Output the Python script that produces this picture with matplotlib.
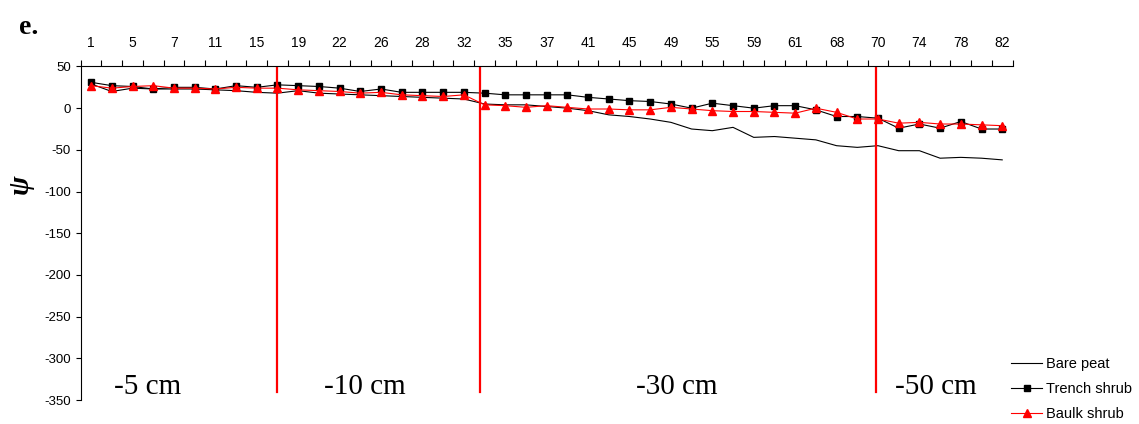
import matplotlib.pyplot as plt
import numpy as np

plt.rcParams['axes.unicode_minus'] = False

# category labels shown on the top axis (every other category is labelled)
shown_labels = ['1', '5', '7', '11', '15', '19', '22', '26', '28', '32', '35', '37',
                '41', '45', '49', '55', '59', '61', '68', '70', '74', '78', '82']
n_cat = 45

bare_peat = [29, 20, 24, 23, 23, 23, 22, 21, 19, 18, 21, 18, 17, 16, 15, 14, 13, 12, 11, 5,
             4, 4, 2, 0, -3, -8, -10, -13, -17, -25, -27, -23, -35, -34, -36, -38, -45, -47,
             -45, -51, -51, -60, -59, -60, -62]
trench_shrub = [31, 27, 26, 23, 25, 25, 23, 27, 25, 28, 27, 26, 24, 20, 23, 19, 19, 19, 19, 18,
                16, 16, 16, 16, 13, 11, 9, 8, 5, 0, 6, 3, 0, 3, 3, -2, -10, -10, -12, -24,
                -19, -24, -16, -25, -25]
baulk_shrub = [27, 24, 26, 27, 24, 24, 23, 25, 24, 24, 22, 21, 20, 18, 19, 16, 15, 14, 16, 4,
               3, 1, 3, 1, -1, -1, -2, -2, 1, -1, -3, -4, -4, -5, -6, 0, -5, -13, -13, -18,
               -17, -19, -19, -20, -21]

# depth zones: boundary positions (category index) and labels
zone_edges = [9, 18.8, 37.9]
zone_text = ['-5 cm', '-10 cm', '-30 cm', '-50 cm']
zone_text_x = [2.75, 13.2, 28.3, 40.8]

fig = plt.figure(figsize=(11.39, 4.24), dpi=100)
ax = fig.add_axes([0.0709, 0.0566, 0.8181, 0.7866])

x = np.arange(n_cat)
ax.plot(x, bare_peat, color='black', lw=0.8, label='Bare peat')
ax.plot(x, trench_shrub, color='black', lw=0.8, marker='s', ms=4.5, label='Trench shrub')
ax.plot(x, baulk_shrub, color='red', lw=0.8, marker='^', ms=5.5, label='Baulk shrub')

for xe in zone_edges:
    ax.plot([xe, xe], [48, -341], color='red', lw=1.6)
for t, xt in zip(zone_text, zone_text_x):
    ax.text(xt, -334, t, ha='center', va='center', family='Liberation Serif', fontsize=21)

ax.set_xlim(-0.5, n_cat - 0.5)
ax.set_ylim(-350, 50)
ax.set_yticks(np.arange(-350, 51, 50))

ax.xaxis.tick_top()
ax.set_xticks(np.arange(-0.5, n_cat, 1))
ax.set_xticklabels([])
ax.set_xticks(np.arange(0, n_cat, 2), minor=True)
ax.set_xticklabels(shown_labels, minor=True)
ax.tick_params(axis='x', which='major', direction='out', length=4, width=0.8)
ax.tick_params(axis='x', which='minor', length=0, pad=12, labelsize=10)
ax.tick_params(axis='y', direction='out', length=3.5, width=0.8, labelsize=9.5)
for lab in ax.get_xticklabels(minor=True) + ax.get_yticklabels():
    lab.set_family('Liberation Sans')

ax.spines['right'].set_visible(False)
ax.spines['bottom'].set_visible(False)

fig.text(0.018, 0.566, 'ψ', rotation=90, ha='center', va='center',
         family='Liberation Serif', fontweight='bold', style='italic', fontsize=21)
fig.text(0.017, 0.935, 'e.', ha='left', va='center',
         family='Liberation Serif', fontweight='bold', fontsize=20)

leg = fig.legend(loc='upper left', bbox_to_anchor=(0.888, 0.158), frameon=False,
                 prop={'family': 'Liberation Sans', 'size': 10.5}, handlelength=2.1,
                 handletextpad=0.3, labelspacing=0.75, borderpad=0, borderaxespad=0)

fig.savefig('out.png', dpi=100)
